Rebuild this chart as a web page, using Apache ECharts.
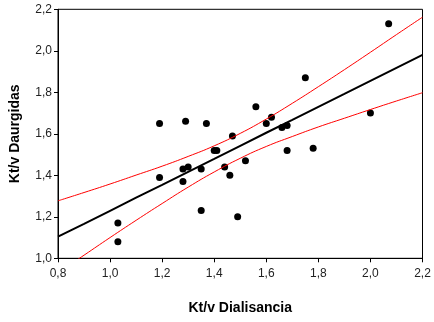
<!DOCTYPE html>
<html>
<head>
<meta charset="utf-8">
<script src="https://cdn.jsdelivr.net/npm/echarts@6/dist/echarts.min.js"></script>
<style>html,body{margin:0;padding:0;background:#fff}#c{width:434px;height:322px}</style>
</head>
<body>
<div id="c"></div>
<script>
var pointsX = [1.03,1.03,1.19,1.19,1.28,1.28,1.29,1.30,1.35,1.35,1.37,1.40,1.41,1.44,1.46,1.47,1.49,1.52,1.56,1.60,1.62,1.66,1.68,1.68,1.75,1.78,2.00,2.07];
var pointsY = [1.08,1.17,1.39,1.65,1.37,1.43,1.66,1.44,1.43,1.23,1.65,1.52,1.52,1.44,1.40,1.59,1.20,1.47,1.73,1.65,1.68,1.63,1.64,1.52,1.87,1.53,1.70,2.13];
var lineX = [0.8,0.9,1.0,1.1,1.2,1.3,1.4,1.5,1.6,1.7,1.8,1.9,2.0,2.1,2.2];
var fitY = [1.104,1.166,1.229,1.292,1.354,1.417,1.479,1.542,1.605,1.667,1.730,1.792,1.855,1.918,1.980];
var upperY = [1.277,1.317,1.358,1.401,1.444,1.491,1.542,1.602,1.671,1.747,1.827,1.909,1.993,2.078,2.162];
var lowerY = [0.931,1.015,1.100,1.183,1.264,1.343,1.416,1.482,1.539,1.587,1.633,1.675,1.717,1.758,1.798];
var xTitle = 'Kt/v Dialisancia';
var yTitle = 'Kt/v Daurgidas';

function pairs(xs, ys){ return xs.map(function(x,i){ return [x, ys[i]]; }); }
function fmt(v){ return v.toFixed(1).replace('.', ','); }

var chart = echarts.init(document.getElementById('c'), null, {renderer:'canvas'});
var axisCommon = {
  axisLine:{show:true, onZero:false, lineStyle:{color:'#000', width:1}},
  axisTick:{show:true, length:4, lineStyle:{color:'#000'}},
  splitLine:{show:false},
  axisLabel:{color:'#222', fontFamily:'Liberation Sans', fontSize:12, formatter:fmt},
  nameLocation:'middle',
  nameTextStyle:{color:'#000', fontFamily:'Liberation Sans', fontSize:14, fontWeight:'bold'}
};
chart.setOption({
  animation:false,
  grid:{left:56.5, right:11.5, top:9.3, bottom:63.7, show:true, borderColor:'#000', borderWidth:1, backgroundColor:'#fff'},
  xAxis:Object.assign({}, axisCommon, {type:'value', min:0.8, max:2.2, interval:0.2, name:xTitle, nameGap:43,
    axisLabel:Object.assign({}, axisCommon.axisLabel, {margin:9})}),
  yAxis:Object.assign({}, axisCommon, {type:'value', min:1.0, max:2.2, interval:0.2, name:yTitle, nameGap:36,
    axisLabel:Object.assign({}, axisCommon.axisLabel, {margin:6})}),
  series:[
    {type:'line', data:pairs(lineX, upperY), smooth:true, symbol:'none', clip:true, lineStyle:{color:'#ff0000', width:1}},
    {type:'line', data:pairs(lineX, lowerY), smooth:true, symbol:'none', clip:true, lineStyle:{color:'#ff0000', width:1}},
    {type:'line', data:pairs(lineX, fitY), symbol:'none', clip:true, lineStyle:{color:'#000', width:2}},
    {type:'scatter', data:pairs(pointsX, pointsY), symbol:'circle', symbolSize:7, itemStyle:{color:'#000', opacity:1}}
  ]
});
</script>
</body>
</html>
